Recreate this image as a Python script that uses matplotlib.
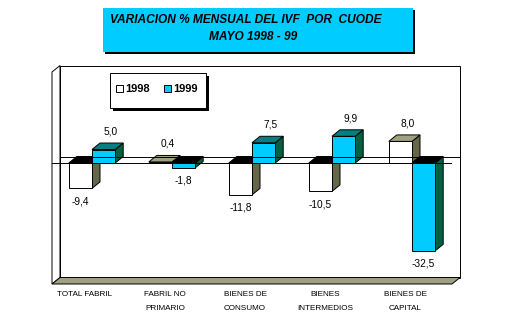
import matplotlib.pyplot as plt
from matplotlib.patches import Polygon, Rectangle

plt.rcParams['font.family'] = ['Liberation Sans', 'DejaVu Sans']

categories = ['TOTAL FABRIL', 'FABRIL NO\nPRIMARIO', 'BIENES DE\nCONSUMO',
              'BIENES\nINTERMEDIOS', 'BIENES DE\nCAPITAL']
years = ['1998', '1999']
v1998 = [-9.4, 0.4, -11.8, -10.5, 8.0]
v1999 = [5.0, -1.8, 7.5, 9.9, -32.5]
title_lines = ['VARIACION % MENSUAL DEL IVF  POR  CUODE', 'MAYO 1998 - 99']

front = {'1998': 'white', '1999': '#00CCFF'}
top = {'1998': '#A0A080', '1999': '#008080'}
side = {'1998': '#666648', '1999': '#006040'}

W, H = 511, 333
fig = plt.figure(figsize=(W / 100, H / 100), dpi=100)
ax = fig.add_axes([52 / W, (H - 284) / H, 400 / W, 212 / H])
ymin, ymax = -44.8, 33.7
ax.set_xlim(-0.5, 4.5)
ax.set_ylim(ymin, ymax)
ax.axis('off')

dx, dy = 0.1, 2.4  # depth offset in data units
bw = 0.29
lw = 0.7

# back wall, left wall, floor
ax.add_patch(Rectangle((-0.5 + dx, ymin + dy), 5, ymax - ymin, fc='white', ec='black', lw=lw, clip_on=False))
ax.add_patch(Polygon([(-0.5, ymin), (-0.5, ymax), (-0.5 + dx, ymax + dy), (-0.5 + dx, ymin + dy)],
                     closed=True, fc='white', ec='black', lw=lw, clip_on=False))
ax.add_patch(Polygon([(-0.5, ymin), (4.5, ymin), (4.5 + dx, ymin + dy), (-0.5 + dx, ymin + dy)],
                     closed=True, fc='#A0A080', ec='black', lw=lw, clip_on=False))

# zero lines (back and front)
ax.plot([-0.5 + dx, 4.5 + dx], [dy, dy], color='black', lw=lw, clip_on=False)
ax.plot([-0.5, 4.49], [0, 0], color='black', lw=lw, clip_on=False)


def draw_bar(x0, v, yr):
    lo, hi = min(0, v), max(0, v)
    ax.add_patch(Polygon([(x0 + bw, lo), (x0 + bw, hi), (x0 + bw + dx, hi + dy), (x0 + bw + dx, lo + dy)],
                         closed=True, fc=side[yr], ec='black', lw=lw, clip_on=False))
    tc = top[yr] if v > 0 else 'black'
    ax.add_patch(Polygon([(x0, hi), (x0 + bw, hi), (x0 + bw + dx, hi + dy), (x0 + dx, hi + dy)],
                         closed=True, fc=tc, ec='black', lw=lw, clip_on=False))
    ax.add_patch(Rectangle((x0, lo), bw, hi - lo, fc=front[yr], ec='black', lw=lw, clip_on=False))
    txt = f'{v:.1f}'.replace('.', ',')
    if v > 0:
        off = (7, 18)
    else:
        off = (0, -13)
    ax.annotate(txt, (x0 + bw / 2, v), xytext=off, textcoords='offset pixels',
                ha='center', va='center', fontsize=7.3)


for i in range(len(categories)):
    draw_bar(i - bw, v1998[i], '1998')
    draw_bar(i, v1999[i], '1999')
    ax.annotate(categories[i], (i, 0), xycoords=('data', 'axes fraction'),
                xytext=(-7, -7), textcoords='offset pixels', ha='center', va='top',
                fontsize=5.9, linespacing=2.3, annotation_clip=False)

# overlay for title box and legend
ov = fig.add_axes([0, 0, 1, 1])
ov.set_zorder(5)
ov.set_xlim(0, W)
ov.set_ylim(H, 0)
ov.axis('off')

ov.add_patch(Rectangle((105, 10), 310, 44, fc='black', lw=0))
ov.add_patch(Rectangle((103, 8), 310, 44, fc='#00CCFF', lw=0))
ov.text(246, 20, title_lines[0], ha='center', va='center', fontsize=8.6,
        fontweight='bold', fontstyle='italic')
ov.text(253, 37, title_lines[1], ha='center', va='center', fontsize=8.6,
        fontweight='bold', fontstyle='italic')

ov.add_patch(Rectangle((113, 76), 96, 35, fc='black', lw=0))
ov.add_patch(Rectangle((110, 73), 96, 35, fc='white', ec='black', lw=lw))
for k, yr in enumerate(years):
    x = 116 + k * 48
    ov.add_patch(Rectangle((x, 85), 7, 7, fc=front[yr], ec='black', lw=lw))
    ov.text(x + 9, 88.5, yr, ha='left', va='center', fontsize=8, fontweight='bold')

fig.savefig('out.png', dpi=100)
